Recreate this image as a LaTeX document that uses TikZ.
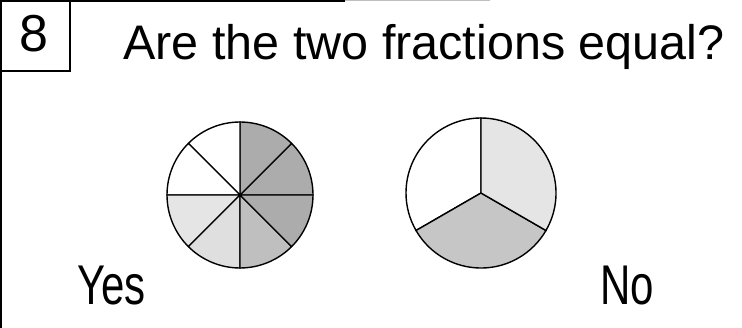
\documentclass[tikz,border=0pt]{standalone}
\usepackage{fontspec}
\setmainfont{Liberation Sans}
\usetikzlibrary{positioning}

\begin{document}
\begin{tikzpicture}[x=1pt, y=-1pt, thick,
    every node/.style={inner sep=0pt, anchor=base west},
    question/.style={font=\fontsize{48.5}{56}\selectfont},
    answer/.style={font=\fontsize{56}{64}\selectfont, xscale=0.75},
    wedge/.style={draw=black, line width=1.4pt}]

    \useasboundingbox (0,0) rectangle (742,328);

    % frame of the exercise
    \draw[line width=2pt] (1,0) -- (1,328);
    \draw[line width=1.5pt] (0,1) -- (345,1);
    \draw[gray!50, line width=1pt] (345,1) -- (490,1);
    \draw[line width=1.5pt] (70,0) -- (70,71) -- (0,71);

    \node[font=\fontsize{52}{60}\selectfont, anchor=center] (num) at (34,34) {8};
    \node[question] (title) at (123,60) {Are the two fractions equal?};

    % the two pies
    \coordinate (eighths) at (240,195);
    \coordinate (thirds) at (481,193);

    \begin{scope}[shift={(eighths)}, y=1pt]
        \foreach \a/\c in {0/gray!65, 45/gray!65, 90/white, 135/white,
                           180/gray!20, 225/gray!25, 270/gray!50, 315/gray!65}
            \filldraw[wedge, fill=\c] (0,0) -- (\a:73)
                arc[start angle=\a, end angle=\a+45, radius=73] -- cycle;
    \end{scope}

    \begin{scope}[shift={(thirds)}, y=1pt]
        \foreach \a/\c in {90/white, 210/gray!45, 330/gray!20}
            \filldraw[wedge, fill=\c] (0,0) -- (\a:75)
                arc[start angle=\a, end angle=\a+120, radius=75] -- cycle;
    \end{scope}

    \node[answer] (yes) at (77,305) {Yes};
    \node[answer] (no) at (600,305) {No};
\end{tikzpicture}
\end{document}
